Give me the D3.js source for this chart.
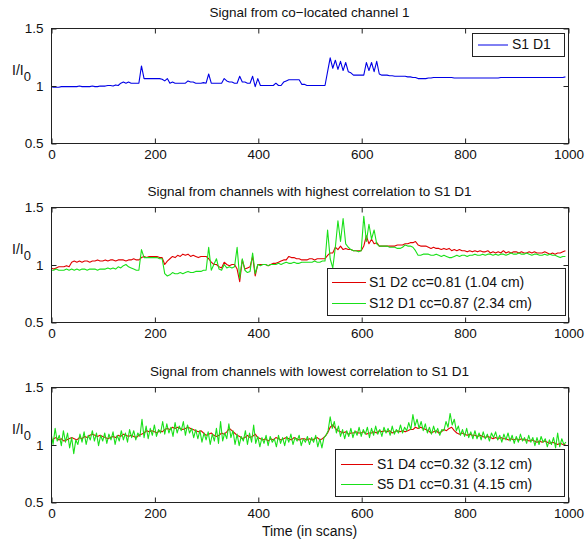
<!DOCTYPE html>
<html><head><meta charset="utf-8">
<script src="https://cdn.jsdelivr.net/npm/d3@7"></script>
<style>
body{margin:0;background:#fff;}
text{font-family:"Liberation Sans",Arial,sans-serif;fill:#111;}
</style></head>
<body><svg id="c" width="588" height="543"></svg>
<script>
// ---------------- DATA ----------------
const xTicks = [0, 200, 400, 600, 800, 1000];
const yTicks = [0.5, 1, 1.5];
const titles = [
  "Signal from co\u2212located channel 1",
  "Signal from channels with highest correlation to S1 D1",
  "Signal from channels with lowest correlation to S1 D1"
];
const xLabel = "Time (in scans)";
// sample positions (scan index)
const scans = d3.range(0, 1000, 5);   // one sample every 5 scans
const scans4 = d3.range(0, 1000, 4);  // one sample every 4 scans

const s1d1 = [
0.99,0.985,0.985,0.985,0.99,0.99,0.99,0.99,0.99,0.99, 0.99,0.995,0.99,0.99,0.99,0.99,0.995,0.99,0.99,0.995,
0.995,0.995,1.0,1.0,0.995,1.005,1.0,1.02,1.03,1.02, 1.03,1.02,1.02,1.02,1.02,1.17,1.06,1.06,1.06,1.06,
1.06,1.06,1.06,1.055,1.04,1.06,1.02,1.03,1.02,1.02, 1.02,1.02,1.02,1.04,1.03,1.03,1.02,1.02,1.02,1.025,
1.02,1.10,1.02,1.02,1.02,1.02,1.02,1.06,1.04,1.03, 1.03,1.02,1.02,1.08,1.03,1.03,1.02,1.02,1.08,0.99,
1.06,1.0,1.0,1.0,1.0,1.0,1.0,1.02,1.0,1.0, 1.03,1.04,1.05,1.05,1.05,1.05,1.05,1.01,1.01,1.0,
1.0,1.0,1.0,1.0,1.0,1.0,1.0,1.12,1.24,1.15, 1.22,1.14,1.21,1.13,1.2,1.12,1.11,1.09,1.09,1.09,
1.09,1.09,1.2,1.13,1.2,1.12,1.21,1.1,1.09,1.09, 1.09,1.085,1.085,1.08,1.08,1.08,1.08,1.08,1.075,1.075,
1.07,1.07,1.06,1.06,1.06,1.06,1.065,1.065,1.07,1.07, 1.07,1.07,1.07,1.07,1.07,1.07,1.065,1.065,1.065,1.065,
1.065,1.065,1.065,1.065,1.065,1.065,1.065,1.065,1.065,1.065, 1.065,1.065,1.065,1.065,1.07,1.07,1.07,1.07,1.07,1.07,
1.07,1.07,1.07,1.07,1.07,1.07,1.07,1.07,1.07,1.07, 1.07,1.07,1.07,1.07,1.07,1.07,1.07,1.07,1.07,1.075
];

const s1d2 = [
0.97,0.96,0.97,0.98,0.98,0.98,0.99,0.98,1.02,1.03, 1.02,1.03,1.02,1.03,1.03,1.02,1.03,1.03,1.04,1.03,
1.03,1.04,1.03,1.04,1.04,1.03,1.04,1.04,1.04,1.03, 1.04,1.04,1.05,1.04,1.04,1.06,1.07,1.06,1.07,1.07,
1.07,1.07,1.06,1.06,1.0,1.03,1.05,1.07,1.06,1.08, 1.07,1.09,1.08,1.09,1.07,1.08,1.07,1.06,1.07,1.07,
1.07,1.05,1.02,1.0,1.0,0.98,0.97,1.02,1.0,0.99, 1.0,1.0,0.96,0.85,1.04,0.96,0.97,0.98,1.07,0.9,
1.0,1.0,1.0,1.0,0.99,1.0,1.01,1.01,1.02,1.03, 1.04,1.04,1.07,1.06,1.06,1.05,1.05,1.04,1.04,1.04,
1.05,1.05,1.04,1.05,1.05,1.05,1.05,1.08,1.1,1.1, 1.15,1.13,1.16,1.13,1.14,1.13,1.13,1.12,1.12,1.12,
1.12,1.16,1.25,1.18,1.22,1.18,1.19,1.16,1.16,1.16, 1.16,1.16,1.16,1.16,1.17,1.17,1.17,1.18,1.18,1.19,
1.19,1.2,1.17,1.16,1.16,1.16,1.15,1.14,1.15,1.14, 1.14,1.13,1.14,1.13,1.14,1.12,1.13,1.12,1.13,1.12,
1.12,1.11,1.12,1.11,1.12,1.11,1.12,1.11,1.11,1.12, 1.1,1.11,1.1,1.11,1.1,1.12,1.1,1.11,1.1,1.11,
1.11,1.1,1.11,1.1,1.1,1.11,1.1,1.11,1.1,1.1, 1.1,1.11,1.1,1.09,1.1,1.09,1.1,1.1,1.11,1.12
];

const s12d1 = [
0.95,0.95,0.96,0.95,0.95,0.95,0.96,0.95,0.96,0.95, 0.96,0.95,0.96,0.96,0.95,0.96,0.96,0.96,0.95,0.96,
0.96,0.96,0.97,0.96,0.97,0.96,0.98,0.97,0.99,1.0, 0.98,0.97,0.96,0.95,0.95,1.13,1.06,1.06,1.06,1.06,
1.06,1.06,1.05,1.05,0.92,0.9,0.91,0.93,0.92,0.92, 0.93,0.92,0.93,0.94,0.93,0.93,0.94,0.94,0.94,0.95,
0.95,1.15,0.95,1.0,1.05,0.96,0.95,1.0,0.97,0.98, 0.97,0.98,1.15,0.88,1.05,0.95,0.93,0.94,1.1,0.92,
1.0,0.99,1.0,1.0,0.99,1.0,1.0,1.0,1.01,1.0, 1.01,1.02,1.01,1.01,1.02,1.01,1.01,1.02,1.02,1.02,
1.02,1.02,1.03,1.02,1.02,1.03,1.03,1.3,1.05,0.97, 1.15,1.38,1.2,1.4,1.18,1.15,1.13,1.12,1.12,1.11,
1.12,1.42,1.2,1.35,1.22,1.3,1.18,1.16,1.16,1.16, 1.16,1.15,1.15,1.15,1.14,1.14,1.15,1.17,1.16,1.16,
1.15,1.12,1.08,1.08,1.09,1.09,1.09,1.08,1.08,1.09, 1.08,1.07,1.08,1.07,1.06,1.06,1.07,1.08,1.07,1.08,
1.08,1.07,1.08,1.08,1.09,1.08,1.08,1.09,1.08,1.09, 1.09,1.08,1.09,1.08,1.09,1.09,1.08,1.09,1.1,1.09,
1.09,1.1,1.09,1.09,1.1,1.09,1.08,1.09,1.09,1.08, 1.08,1.09,1.08,1.09,1.08,1.08,1.07,1.06,1.07,1.07
];

const s1d4 = [
1.02,1.05,1.06,1.04,1.05,1.03,1.04,1.05,1.06,1.05, 1.04,1.06,1.05,1.07,1.06,1.08,1.09,1.08,1.07,1.08,
1.07,1.06,1.05,1.06,1.07,1.06,1.08,1.07,1.09,1.08, 1.07,1.08,1.07,1.06,1.08,1.09,1.1,1.12,1.11,1.12,
1.11,1.1,1.12,1.11,1.13,1.14,1.13,1.15,1.14,1.15, 1.14,1.13,1.14,1.15,1.14,1.13,1.12,1.11,1.12,1.1,
1.08,1.09,1.1,1.08,1.07,1.08,1.1,1.09,1.11,1.14, 1.12,1.1,1.08,1.07,1.05,1.06,1.08,1.06,1.07,1.09,
1.06,1.05,1.04,1.05,1.03,1.05,1.04,1.06,1.05,1.04, 1.05,1.06,1.05,1.04,1.06,1.05,1.04,1.05,1.05,1.04,
1.05,1.04,1.05,1.06,1.04,1.05,1.07,1.1,1.15,1.17, 1.14,1.12,1.11,1.1,1.11,1.09,1.1,1.1,1.11,1.1,
1.1,1.11,1.09,1.1,1.1,1.11,1.1,1.12,1.11,1.12, 1.11,1.12,1.1,1.11,1.12,1.11,1.12,1.11,1.12,1.13,
1.13,1.15,1.14,1.15,1.14,1.13,1.12,1.1,1.11,1.12, 1.1,1.11,1.13,1.12,1.14,1.15,1.12,1.1,1.09,1.1,
1.09,1.08,1.09,1.08,1.08,1.07,1.08,1.07,1.06,1.07, 1.06,1.05,1.06,1.05,1.06,1.05,1.05,1.04,1.05,1.04,
1.05,1.04,1.05,1.04,1.04,1.03,1.04,1.03,1.02,1.03, 1.02,1.03,1.02,1.01,1.02,1.01,1.0,1.01,1.0,1.0
];

// S5 D1 sampled every 4 scans
const s5d1 = [
1.1,1.0,1.14,1.03,1.08, 0.99,1.12,1.02,1.1,0.97, 1.06,0.92,1.04,1.0,1.09, 1.02,1.11,1.0,1.08,1.04,
1.12,1.03,1.1,0.99,1.08, 1.03,1.1,1.01,1.09,1.04, 1.11,1.0,1.08,1.03,1.12, 1.04,1.1,1.02,1.13,1.06,
1.12,1.04,1.1,1.07,1.22, 1.06,1.16,1.05,1.14,1.08, 1.17,1.07,1.13,1.1,1.2, 1.09,1.18,1.1,1.15,1.07,
1.19,1.1,1.16,1.12,1.2, 1.08,1.17,1.1,1.14,1.06, 1.13,1.05,1.12,1.02,1.1, 1.04,1.11,1.0,1.09,1.03,
1.14,1.01,1.2,1.03,1.1, 1.05,1.18,1.06,1.12,1.0, 1.09,0.99,1.07,1.03,1.12, 1.0,1.1,1.02,1.17,1.01,
1.07,0.98,1.06,1.01,1.08, 0.99,1.07,1.02,1.05,0.98, 1.08,1.01,1.06,0.99,1.07, 1.02,1.09,1.0,1.06,1.03,
1.08,0.99,1.05,1.02,1.07, 1.0,1.06,1.02,1.08,0.98, 1.05,0.97,1.06,1.08,1.12, 1.24,1.14,1.2,1.1,1.16,
1.07,1.13,1.05,1.12,1.07, 1.14,1.06,1.12,1.08,1.15, 1.07,1.13,1.09,1.15,1.06, 1.14,1.08,1.16,1.09,1.13,
1.07,1.15,1.1,1.14,1.08, 1.16,1.09,1.13,1.1,1.17, 1.1,1.15,1.12,1.19,1.13, 1.26,1.16,1.22,1.14,1.2,
1.12,1.18,1.1,1.15,1.09, 1.16,1.1,1.14,1.08,1.13, 1.12,1.2,1.15,1.27,1.17, 1.22,1.12,1.16,1.08,1.13,
1.07,1.14,1.06,1.11,1.05, 1.12,1.05,1.1,1.04,1.11, 1.05,1.09,1.03,1.1,1.06, 1.11,1.04,1.08,1.02,1.09,
1.04,1.1,1.03,1.08,1.01, 1.07,1.02,1.09,1.03,1.06, 1.01,1.08,1.02,1.06,0.99, 1.06,1.0,1.07,1.02,1.05,
0.98,1.04,1.0,1.06,0.97, 1.1,0.98,1.05,1.0,1.02
];

const seriesNames = [
  ["S1 D1"],
  ["S1 D2 cc=0.81 (1.04 cm)", "S12 D1 cc=0.87 (2.34 cm)"],
  ["S1 D4 cc=0.32 (3.12 cm)", "S5 D1 cc=0.31 (4.15 cm)"]
];
const seriesValues = [[s1d1], [s1d2, s12d1], [s1d4, s5d1]];
const seriesScans = [[scans], [scans, scans], [scans, scans4]];

// ---------------- LAYOUT / STYLE ----------------
const colors = [["#0000e6"], ["#e00000", "#19e019"], ["#e00000", "#19e019"]];
const L = 51, R = 568;
const tops = [28, 207, 387], H = 115;
const legendBoxes = [
  {x: 472, y: 33, w: 92, h: 23, lx0: 478, lx1: 508, tx: 512, rows: [44.5]},
  {x: 327, y: 268, w: 238, h: 47, lx0: 332, lx1: 366, tx: 369, rows: [282, 303]},
  {x: 335, y: 449, w: 229, h: 47, lx0: 341, lx1: 373, tx: 377, rows: [464, 484]}
];
const svg = d3.select("#c");
const x = d3.scaleLinear().domain([0, 1000]).range([L, R]);
const axisCol = "#222";

tops.forEach((top, p) => {
  const y = d3.scaleLinear().domain([0.5, 1.5]).range([top + H, top]);
  const g = svg.append("g");
  g.append("clipPath").attr("id", "clip" + p)
    .append("rect").attr("x", L).attr("y", top).attr("width", R - L).attr("height", H);

  seriesValues[p].forEach((vals, k) => {
    const xs = seriesScans[p][k];
    const line = d3.line().x((d, i) => x(xs[i])).y(d => y(d));
    g.append("path").datum(vals).attr("d", line)
      .attr("clip-path", `url(#clip${p})`)
      .attr("fill", "none").attr("stroke", colors[p][k]).attr("stroke-width", 1.1)
      .attr("stroke-linejoin", "round");
  });

  // box
  g.append("rect").attr("x", L + 0.5).attr("y", top + 0.5).attr("width", R - L).attr("height", H)
    .attr("fill", "none").attr("stroke", axisCol).attr("stroke-width", 1);

  // axes (inward ticks)
  const xb = d3.axisBottom(x).tickValues(xTicks).tickSizeInner(-5).tickSizeOuter(0).tickPadding(9)
    .tickFormat(d3.format("d"));
  const gx = g.append("g").attr("transform", `translate(0.5,${top + H + 0.5})`).call(xb);
  const xt = d3.axisTop(x).tickValues(xTicks).tickSizeInner(-5).tickSizeOuter(0).tickFormat("");
  const gxt = g.append("g").attr("transform", `translate(0.5,${top + 0.5})`).call(xt);
  const yl = d3.axisLeft(y).tickValues(yTicks).tickSizeInner(-5).tickSizeOuter(0).tickPadding(8)
    .tickFormat(d3.format("~g"));
  const gy = g.append("g").attr("transform", `translate(${L + 0.5},0.5)`).call(yl);
  const yr = d3.axisRight(y).tickValues(yTicks).tickSizeInner(-5).tickSizeOuter(0).tickFormat("");
  const gyr = g.append("g").attr("transform", `translate(${R + 0.5},0.5)`).call(yr);
  [gx, gxt, gy, gyr].forEach(a => {
    a.select(".domain").remove();
    a.selectAll("line").attr("stroke", axisCol);
    a.selectAll("text").attr("font-size", "13.5px").attr("fill", "#111")
      .attr("font-family", "Liberation Sans, Arial, sans-serif");
  });
  gx.selectAll("text").attr("dy", "0.71em").attr("y", 6);

  // title
  g.append("text").attr("x", (L + R) / 2).attr("y", top - 11).attr("text-anchor", "middle")
    .attr("font-size", "13.5px").text(titles[p]);

  // y label I/I0
  const yt = g.append("text").attr("x", 12).attr("y", top + 47).attr("font-size", "14px");
  yt.append("tspan").text("I/I");
  yt.append("tspan").attr("dy", 6).attr("font-size", "13px").text("0");

  // legend
  const lb = legendBoxes[p];
  const lg = g.append("g");
  lg.append("rect").attr("x", lb.x + 0.5).attr("y", lb.y + 0.5).attr("width", lb.w).attr("height", lb.h)
    .attr("fill", "#fff").attr("stroke", axisCol).attr("stroke-width", 1);
  seriesNames[p].forEach((name, k) => {
    lg.append("line").attr("x1", lb.lx0).attr("x2", lb.lx1)
      .attr("y1", lb.rows[k] + 0.5).attr("y2", lb.rows[k] + 0.5)
      .attr("stroke", colors[p][k]).attr("stroke-width", 1);
    lg.append("text").attr("x", lb.tx).attr("y", lb.rows[k]).attr("dy", "0.35em")
      .attr("font-size", "14px").text(name);
  });
});

svg.append("text").attr("x", (L + R) / 2).attr("y", 536).attr("text-anchor", "middle")
  .attr("font-size", "14px").text(xLabel);
</script>
</body></html>
